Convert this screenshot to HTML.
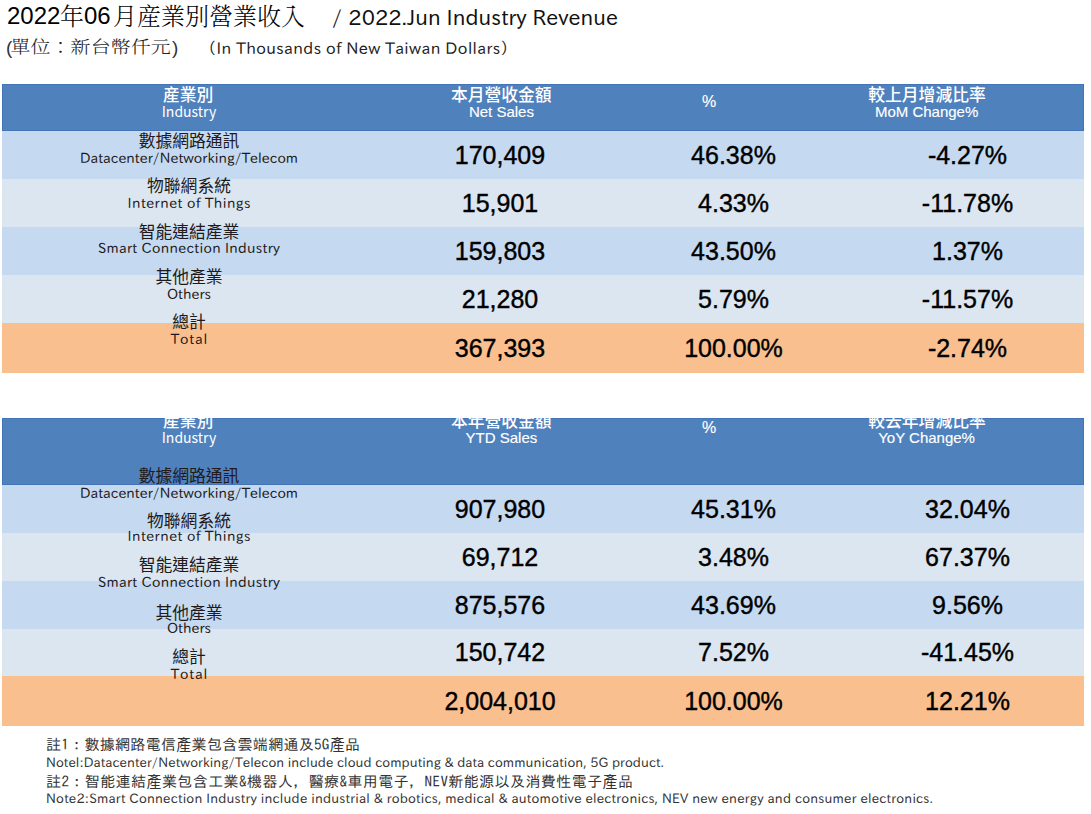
<!DOCTYPE html>
<html><head><meta charset="utf-8"><title>2022年06月産業別營業收入</title>
<style>html,body{margin:0;padding:0;background:#fff;}body{width:1091px;height:814px;overflow:hidden;}svg{display:block;}text{white-space:pre;}</style>
</head><body>
<svg width="1091" height="814" viewBox="0 0 1091 814">
<rect x="2" y="84" width="1082" height="47" fill="#4f81bd"/>
<rect x="2.5" y="84.5" width="1081" height="46" fill="none" stroke="#4374b8" stroke-width="1"/>
<rect x="2" y="131" width="1082" height="48" fill="#c5d9f1"/>
<rect x="2" y="179" width="1082" height="48" fill="#dce6f1"/>
<rect x="2" y="227" width="1082" height="48" fill="#c5d9f1"/>
<rect x="2" y="275" width="1082" height="48" fill="#dce6f1"/>
<rect x="2" y="323" width="1082" height="50" fill="#fabf8f"/>
<rect x="2" y="418" width="1082" height="67" fill="#4f81bd"/>
<rect x="2.5" y="418.5" width="1081" height="66" fill="none" stroke="#4374b8" stroke-width="1"/>
<rect x="2" y="485" width="1082" height="48" fill="#c5d9f1"/>
<rect x="2" y="533" width="1082" height="48" fill="#dce6f1"/>
<rect x="2" y="581" width="1082" height="48" fill="#c5d9f1"/>
<rect x="2" y="629" width="1082" height="47" fill="#dce6f1"/>
<rect x="2" y="676" width="1082" height="50" fill="#fabf8f"/>
<text x="7" y="24" font-family='"Liberation Sans","DejaVu Sans",sans-serif' font-size="24" fill="#000">2022</text>
<text x="60" y="25" font-family='"Noto Serif CJK TC","Noto Serif CJK SC",serif' font-size="24" fill="#000" font-weight="300">年</text>
<text x="84" y="24" font-family='"Liberation Sans","DejaVu Sans",sans-serif' font-size="24" fill="#000">06</text>
<text x="113" y="25" font-family='"Noto Serif CJK TC","Noto Serif CJK SC",serif' font-size="24" fill="#000" font-weight="300">月産業別營業收入</text>
<text x="332" y="24.5" font-family='"IPAPGothic","IPAGothic","Liberation Sans",sans-serif' font-size="21" fill="#111" textLength="286" lengthAdjust="spacing">/ 2022.Jun Industry Revenue</text>
<text x="6" y="54" font-family='"Liberation Sans","DejaVu Sans",sans-serif' font-size="19" fill="#333">(</text>
<text x="9.298" y="53.5" font-family='"Noto Serif CJK TC","Noto Serif CJK SC",serif' font-size="17.5" fill="#222" font-weight="300" textLength="140.351" lengthAdjust="spacing" transform="scale(1.14,1)">單位：新台幣仟元</text>
<text x="172" y="54" font-family='"Liberation Sans","DejaVu Sans",sans-serif' font-size="19" fill="#333">)</text>
<text x="207.3" y="53.5" font-family='"IPAPGothic","IPAGothic","Liberation Sans",sans-serif' font-size="16" fill="#222" textLength="302" lengthAdjust="spacing">（In Thousands of New Taiwan Dollars）</text>
<text x="188.2" y="101.3" font-family='"Noto Sans CJK TC","Noto Sans CJK SC",sans-serif' font-size="16.8" fill="#fff" font-weight="500" text-anchor="middle">産業別</text>
<text x="189" y="116.6" font-family='"Noto Sans CJK TC","Noto Sans CJK SC",sans-serif' font-size="14" fill="#fff" text-anchor="middle">Industry</text>
<text x="501.3" y="101.3" font-family='"Noto Sans CJK TC","Noto Sans CJK SC",sans-serif' font-size="16.8" fill="#fff" font-weight="500" text-anchor="middle">本月營收金額</text>
<text x="501.4" y="116.6" font-family='"Liberation Sans","DejaVu Sans",sans-serif' font-size="15" fill="#fff" text-anchor="middle" stroke="#fff" stroke-width="0.15">Net Sales</text>
<text x="709" y="107.2" font-family='"Liberation Sans","DejaVu Sans",sans-serif' font-size="16" fill="#fff" text-anchor="middle" stroke="#fff" stroke-width="0.15">%</text>
<text x="927" y="101.3" font-family='"Noto Sans CJK TC","Noto Sans CJK SC",sans-serif' font-size="16.8" fill="#fff" font-weight="500" text-anchor="middle">較上月增減比率</text>
<text x="926.6" y="116.6" font-family='"Liberation Sans","DejaVu Sans",sans-serif' font-size="15" fill="#fff" text-anchor="middle" stroke="#fff" stroke-width="0.15">MoM Change%</text>
<text x="188.2" y="427.3" font-family='"Noto Sans CJK TC","Noto Sans CJK SC",sans-serif' font-size="16.8" fill="#fff" font-weight="500" text-anchor="middle">産業別</text>
<text x="189" y="442.6" font-family='"Noto Sans CJK TC","Noto Sans CJK SC",sans-serif' font-size="14" fill="#fff" text-anchor="middle">Industry</text>
<text x="501.3" y="427.3" font-family='"Noto Sans CJK TC","Noto Sans CJK SC",sans-serif' font-size="16.8" fill="#fff" font-weight="500" text-anchor="middle">本年營收金額</text>
<text x="501.4" y="442.6" font-family='"Liberation Sans","DejaVu Sans",sans-serif' font-size="15" fill="#fff" text-anchor="middle" stroke="#fff" stroke-width="0.15">YTD Sales</text>
<text x="709" y="433.2" font-family='"Liberation Sans","DejaVu Sans",sans-serif' font-size="16" fill="#fff" text-anchor="middle" stroke="#fff" stroke-width="0.15">%</text>
<text x="927" y="427.3" font-family='"Noto Sans CJK TC","Noto Sans CJK SC",sans-serif' font-size="16.8" fill="#fff" font-weight="500" text-anchor="middle">較去年增減比率</text>
<text x="926.6" y="442.6" font-family='"Liberation Sans","DejaVu Sans",sans-serif' font-size="15" fill="#fff" text-anchor="middle" stroke="#fff" stroke-width="0.15">YoY Change%</text>
<text x="189" y="147.20000000000002" font-family='"Noto Sans CJK TC","Noto Sans CJK SC",sans-serif' font-size="16.8" fill="#221a1a" text-anchor="middle">數據網路通訊</text>
<text x="189" y="162.5" font-family='"IPAPGothic","IPAGothic","Liberation Sans",sans-serif' font-size="14" fill="#221a1a" text-anchor="middle" textLength="218.1" lengthAdjust="spacing">Datacenter/Networking/Telecom</text>
<text x="189" y="481.7" font-family='"Noto Sans CJK TC","Noto Sans CJK SC",sans-serif' font-size="16.8" fill="#221a1a" text-anchor="middle">數據網路通訊</text>
<text x="189" y="497.9" font-family='"IPAPGothic","IPAGothic","Liberation Sans",sans-serif' font-size="14" fill="#221a1a" text-anchor="middle" textLength="218.1" lengthAdjust="spacing">Datacenter/Networking/Telecom</text>
<text x="189" y="192.1" font-family='"Noto Sans CJK TC","Noto Sans CJK SC",sans-serif' font-size="16.8" fill="#221a1a" text-anchor="middle">物聯網系統</text>
<text x="189" y="207.6" font-family='"IPAPGothic","IPAGothic","Liberation Sans",sans-serif' font-size="14" fill="#221a1a" text-anchor="middle" textLength="123" lengthAdjust="spacing">Internet of Things</text>
<text x="189" y="526.5" font-family='"Noto Sans CJK TC","Noto Sans CJK SC",sans-serif' font-size="16.8" fill="#221a1a" text-anchor="middle">物聯網系統</text>
<text x="189" y="541.2" font-family='"IPAPGothic","IPAGothic","Liberation Sans",sans-serif' font-size="14" fill="#221a1a" text-anchor="middle" textLength="123" lengthAdjust="spacing">Internet of Things</text>
<text x="189" y="237.9" font-family='"Noto Sans CJK TC","Noto Sans CJK SC",sans-serif' font-size="16.8" fill="#221a1a" text-anchor="middle">智能連結產業</text>
<text x="189" y="252.5" font-family='"IPAPGothic","IPAGothic","Liberation Sans",sans-serif' font-size="14" fill="#221a1a" text-anchor="middle" textLength="182" lengthAdjust="spacing">Smart Connection Industry</text>
<text x="189" y="570.8" font-family='"Noto Sans CJK TC","Noto Sans CJK SC",sans-serif' font-size="16.8" fill="#221a1a" text-anchor="middle">智能連結產業</text>
<text x="189" y="586.8" font-family='"IPAPGothic","IPAGothic","Liberation Sans",sans-serif' font-size="14" fill="#221a1a" text-anchor="middle" textLength="182" lengthAdjust="spacing">Smart Connection Industry</text>
<text x="189" y="283.4" font-family='"Noto Sans CJK TC","Noto Sans CJK SC",sans-serif' font-size="16.8" fill="#221a1a" text-anchor="middle">其他產業</text>
<text x="189" y="298.7" font-family='"IPAPGothic","IPAGothic","Liberation Sans",sans-serif' font-size="14" fill="#221a1a" text-anchor="middle" textLength="44.1" lengthAdjust="spacing">Others</text>
<text x="189" y="618.5" font-family='"Noto Sans CJK TC","Noto Sans CJK SC",sans-serif' font-size="16.8" fill="#221a1a" text-anchor="middle">其他產業</text>
<text x="189" y="633" font-family='"IPAPGothic","IPAGothic","Liberation Sans",sans-serif' font-size="14" fill="#221a1a" text-anchor="middle" textLength="44.1" lengthAdjust="spacing">Others</text>
<text x="189" y="328.09999999999997" font-family='"Noto Sans CJK TC","Noto Sans CJK SC",sans-serif' font-size="16.8" fill="#221a1a" text-anchor="middle">總計</text>
<text x="189" y="343.7" font-family='"IPAPGothic","IPAGothic","Liberation Sans",sans-serif' font-size="14" fill="#221a1a" text-anchor="middle" textLength="36.5" lengthAdjust="spacing">Total</text>
<text x="189" y="663.4" font-family='"Noto Sans CJK TC","Noto Sans CJK SC",sans-serif' font-size="16.8" fill="#221a1a" text-anchor="middle">總計</text>
<text x="189" y="678.8" font-family='"IPAPGothic","IPAGothic","Liberation Sans",sans-serif' font-size="14" fill="#221a1a" text-anchor="middle" textLength="36.5" lengthAdjust="spacing">Total</text>
<text x="500" y="163.8" font-family='"Liberation Sans","DejaVu Sans",sans-serif' font-size="25" fill="#000" text-anchor="middle" stroke="#000" stroke-width="0.4">170,409</text>
<text x="733.5" y="163.8" font-family='"Liberation Sans","DejaVu Sans",sans-serif' font-size="25" fill="#000" text-anchor="middle" stroke="#000" stroke-width="0.4">46.38%</text>
<text x="967.5" y="163.8" font-family='"Liberation Sans","DejaVu Sans",sans-serif' font-size="25" fill="#000" text-anchor="middle" stroke="#000" stroke-width="0.4">-4.27%</text>
<text x="500" y="211.8" font-family='"Liberation Sans","DejaVu Sans",sans-serif' font-size="25" fill="#000" text-anchor="middle" stroke="#000" stroke-width="0.4">15,901</text>
<text x="733.5" y="211.8" font-family='"Liberation Sans","DejaVu Sans",sans-serif' font-size="25" fill="#000" text-anchor="middle" stroke="#000" stroke-width="0.4">4.33%</text>
<text x="967.5" y="211.8" font-family='"Liberation Sans","DejaVu Sans",sans-serif' font-size="25" fill="#000" text-anchor="middle" stroke="#000" stroke-width="0.4">-11.78%</text>
<text x="500" y="259.8" font-family='"Liberation Sans","DejaVu Sans",sans-serif' font-size="25" fill="#000" text-anchor="middle" stroke="#000" stroke-width="0.4">159,803</text>
<text x="733.5" y="259.8" font-family='"Liberation Sans","DejaVu Sans",sans-serif' font-size="25" fill="#000" text-anchor="middle" stroke="#000" stroke-width="0.4">43.50%</text>
<text x="967.5" y="259.8" font-family='"Liberation Sans","DejaVu Sans",sans-serif' font-size="25" fill="#000" text-anchor="middle" stroke="#000" stroke-width="0.4">1.37%</text>
<text x="500" y="307.8" font-family='"Liberation Sans","DejaVu Sans",sans-serif' font-size="25" fill="#000" text-anchor="middle" stroke="#000" stroke-width="0.4">21,280</text>
<text x="733.5" y="307.8" font-family='"Liberation Sans","DejaVu Sans",sans-serif' font-size="25" fill="#000" text-anchor="middle" stroke="#000" stroke-width="0.4">5.79%</text>
<text x="967.5" y="307.8" font-family='"Liberation Sans","DejaVu Sans",sans-serif' font-size="25" fill="#000" text-anchor="middle" stroke="#000" stroke-width="0.4">-11.57%</text>
<text x="500" y="356.8" font-family='"Liberation Sans","DejaVu Sans",sans-serif' font-size="25" fill="#000" text-anchor="middle" stroke="#000" stroke-width="0.4">367,393</text>
<text x="733.5" y="356.8" font-family='"Liberation Sans","DejaVu Sans",sans-serif' font-size="25" fill="#000" text-anchor="middle" stroke="#000" stroke-width="0.4">100.00%</text>
<text x="967.5" y="356.8" font-family='"Liberation Sans","DejaVu Sans",sans-serif' font-size="25" fill="#000" text-anchor="middle" stroke="#000" stroke-width="0.4">-2.74%</text>
<text x="500" y="517.8" font-family='"Liberation Sans","DejaVu Sans",sans-serif' font-size="25" fill="#000" text-anchor="middle" stroke="#000" stroke-width="0.4">907,980</text>
<text x="733.5" y="517.8" font-family='"Liberation Sans","DejaVu Sans",sans-serif' font-size="25" fill="#000" text-anchor="middle" stroke="#000" stroke-width="0.4">45.31%</text>
<text x="967.5" y="517.8" font-family='"Liberation Sans","DejaVu Sans",sans-serif' font-size="25" fill="#000" text-anchor="middle" stroke="#000" stroke-width="0.4">32.04%</text>
<text x="500" y="565.8" font-family='"Liberation Sans","DejaVu Sans",sans-serif' font-size="25" fill="#000" text-anchor="middle" stroke="#000" stroke-width="0.4">69,712</text>
<text x="733.5" y="565.8" font-family='"Liberation Sans","DejaVu Sans",sans-serif' font-size="25" fill="#000" text-anchor="middle" stroke="#000" stroke-width="0.4">3.48%</text>
<text x="967.5" y="565.8" font-family='"Liberation Sans","DejaVu Sans",sans-serif' font-size="25" fill="#000" text-anchor="middle" stroke="#000" stroke-width="0.4">67.37%</text>
<text x="500" y="613.8" font-family='"Liberation Sans","DejaVu Sans",sans-serif' font-size="25" fill="#000" text-anchor="middle" stroke="#000" stroke-width="0.4">875,576</text>
<text x="733.5" y="613.8" font-family='"Liberation Sans","DejaVu Sans",sans-serif' font-size="25" fill="#000" text-anchor="middle" stroke="#000" stroke-width="0.4">43.69%</text>
<text x="967.5" y="613.8" font-family='"Liberation Sans","DejaVu Sans",sans-serif' font-size="25" fill="#000" text-anchor="middle" stroke="#000" stroke-width="0.4">9.56%</text>
<text x="500" y="661.3" font-family='"Liberation Sans","DejaVu Sans",sans-serif' font-size="25" fill="#000" text-anchor="middle" stroke="#000" stroke-width="0.4">150,742</text>
<text x="733.5" y="661.3" font-family='"Liberation Sans","DejaVu Sans",sans-serif' font-size="25" fill="#000" text-anchor="middle" stroke="#000" stroke-width="0.4">7.52%</text>
<text x="967.5" y="661.3" font-family='"Liberation Sans","DejaVu Sans",sans-serif' font-size="25" fill="#000" text-anchor="middle" stroke="#000" stroke-width="0.4">-41.45%</text>
<text x="500" y="709.8" font-family='"Liberation Sans","DejaVu Sans",sans-serif' font-size="25" fill="#000" text-anchor="middle" stroke="#000" stroke-width="0.4">2,004,010</text>
<text x="733.5" y="709.8" font-family='"Liberation Sans","DejaVu Sans",sans-serif' font-size="25" fill="#000" text-anchor="middle" stroke="#000" stroke-width="0.4">100.00%</text>
<text x="967.5" y="709.8" font-family='"Liberation Sans","DejaVu Sans",sans-serif' font-size="25" fill="#000" text-anchor="middle" stroke="#000" stroke-width="0.4">12.21%</text>
<text x="46" y="750" font-family='"IPAGothic","IPAPGothic","Noto Sans CJK JP",sans-serif' font-size="15" fill="#333" textLength="314" lengthAdjust="spacing">註1：數據網路電信產業包含雲端網通及5G產品</text>
<text x="46" y="766.7" font-family='"IPAPGothic","IPAGothic","Liberation Sans",sans-serif' font-size="13" fill="#333" textLength="618" lengthAdjust="spacing">Notel:Datacenter/Networking/Telecon include cloud computing &amp; data communication, 5G product.</text>
<text x="46" y="786.5" font-family='"IPAGothic","IPAPGothic","Noto Sans CJK JP",sans-serif' font-size="15" fill="#333" textLength="587" lengthAdjust="spacing">註2：智能連結產業包含工業&amp;機器人，醫療&amp;車用電子，NEV新能源以及消費性電子產品</text>
<text x="46" y="803.3" font-family='"IPAPGothic","IPAGothic","Liberation Sans",sans-serif' font-size="13" fill="#333" textLength="887" lengthAdjust="spacing">Note2:Smart Connection Industry include industrial &amp; robotics, medical &amp; automotive electronics, NEV new energy and consumer electronics.</text>
<rect x="0" y="373" width="1091" height="45" fill="#fff"/>
</svg>
</body></html>
